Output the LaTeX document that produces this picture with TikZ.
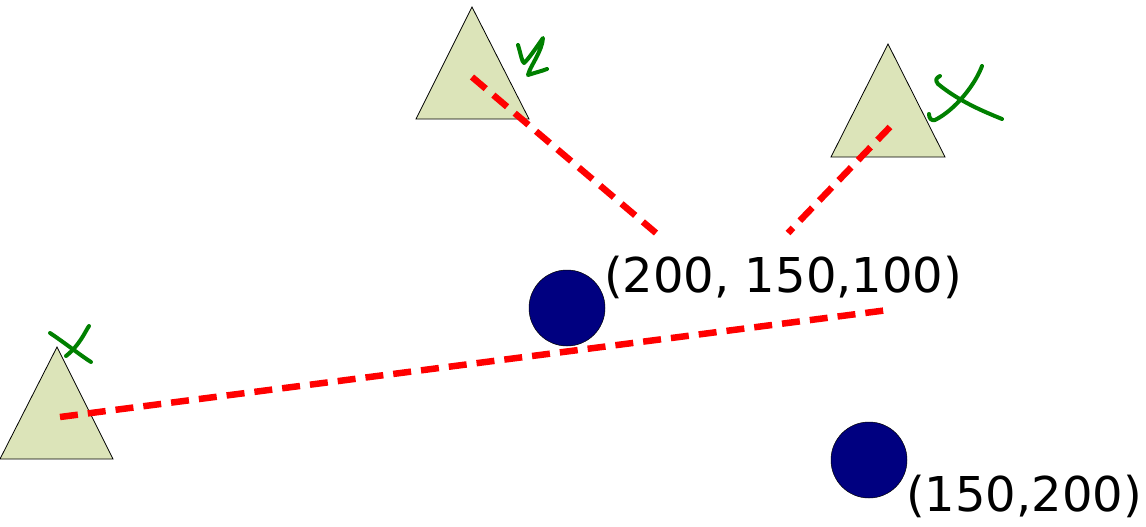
\documentclass[tikz,border=0pt]{standalone}
\usepackage{fontspec}
\setmainfont{DejaVu Sans}
\definecolor{trifill}{RGB}{220,228,185}
\definecolor{dotblue}{RGB}{0,0,128}
\definecolor{markgreen}{RGB}{0,128,0}
\definecolor{dashred}{RGB}{255,0,0}
\begin{document}
\begin{tikzpicture}[x=1pt,y=-1pt,
  tri/.style={fill=trifill,draw=black,line width=0.8pt,line join=miter},
  dot/.style={circle,fill=dotblue,draw=black,line width=0.5pt,minimum size=76pt,inner sep=0pt},
  ray/.style={draw=dashred,line width=6.5pt,dash pattern=on 18pt off 10pt},
  greenmark/.style={draw=markgreen,line width=4pt,line cap=round,line join=round},
  lab/.style={font=\fontsize{48}{50}\selectfont,inner sep=0pt,anchor=base west}]
\useasboundingbox (0,0) rectangle (1146,527);
% triangles
\draw[tri] (416,119) -- (472,7) -- (529,119) -- cycle;
\draw[tri] (831,157) -- (888,44) -- (945,157) -- cycle;
\draw[tri] (0,459) -- (57,347) -- (113,459) -- cycle;
\coordinate (t1) at (472,77);
\coordinate (t2) at (890,127);
\coordinate (t3) at (60,417);
\coordinate (e1) at (656,233);
\coordinate (e2) at (788,233);
\coordinate (e3) at (888,310);
% circles
\node[dot] (c1) at (567,308) {};
\node[dot] (c2) at (869,460) {};
% labels
\node[lab] (l1) at (604,292) {(200, 150,100)};
\node[lab] (l2) at (906,511) {(150,200)};
% dashed rays
\draw[ray] (t1) -- (e1);
\draw[ray] (t2) -- (e2);
\draw[ray] (t3) -- (e3);
% green marks
\draw[greenmark] (518,45) .. controls (521,55) and (522,62) .. (524,63)
  .. controls (528,60) and (538,45) .. (543,38)
  .. controls (542,52) and (530,66) .. (528,75)
  .. controls (534,73) and (542,71) .. (547,69);
\draw[greenmark] (940,76) .. controls (936,78) and (935,80) .. (938,84)
  .. controls (960,102) and (985,112) .. (1002,119);
\draw[greenmark] (982,66) .. controls (975,85) and (955,110) .. (935,120)
  .. controls (931,121) and (929,118) .. (929,114);
\draw[greenmark] (50,333) .. controls (65,343) and (80,355) .. (91,362);
\draw[greenmark] (89,326) .. controls (86,330) and (80,345) .. (66,356);
\end{tikzpicture}
\end{document}
